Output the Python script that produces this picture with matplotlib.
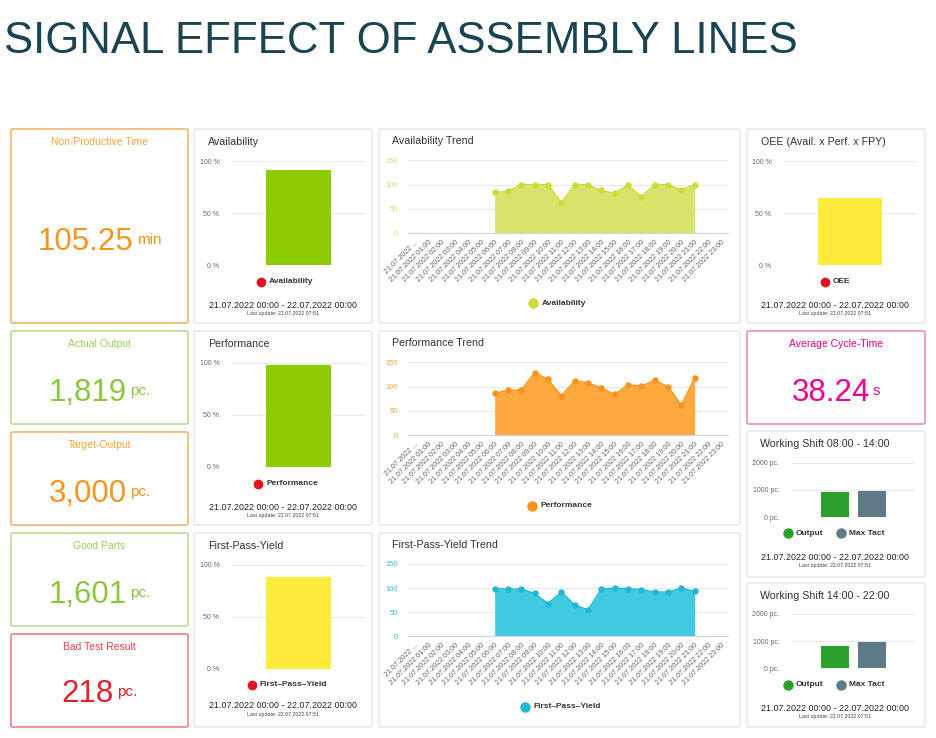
import numpy as np
import matplotlib
matplotlib.use('Agg')
import matplotlib.pyplot as plt
from matplotlib.patches import FancyBboxPatch
from matplotlib.lines import Line2D

plt.rcParams['font.family'] = ['Liberation Sans', 'DejaVu Sans']

# ---- data ----
hour_labels = ['21.07.2022 ...', '21.07.2022 01:00', '21.07.2022 02:00', '21.07.2022 03:00',
               '21.07.2022 04:00', '21.07.2022 05:00', '21.07.2022 06:00', '21.07.2022 07:00',
               '21.07.2022 08:00', '21.07.2022 09:00', '21.07.2022 10:00', '21.07.2022 11:00',
               '21.07.2022 12:00', '21.07.2022 13:00', '21.07.2022 14:00', '21.07.2022 15:00',
               '21.07.2022 16:00', '21.07.2022 17:00', '21.07.2022 18:00', '21.07.2022 19:00',
               '21.07.2022 20:00', '21.07.2022 21:00', '21.07.2022 22:00', '21.07.2022 23:00']
avail_trend = [None, None, None, None, None, None, 84, 86, 100, 100, 100, 63,
               100, 100, 88, 82, 100, 75, 100, 100, 89, 100, None, None]
perf_trend = [None, None, None, None, None, None, 86, 93, 93, 129, 115, 81,
              112, 108, 97, 84, 104, 101, 113, 100, 62, 118, None, None]
fpy_trend = [None, None, None, None, None, None, 99, 98, 98, 89, 68, 92,
             65, 55, 98, 100, 99, 97, 92, 92, 100, 93, None, None]

availability = 91
performance = 98
first_pass_yield = 88
oee = 64

shift_series = ['Output', 'Max Tact']
shift1_values = [915, 963]
shift2_values = [822, 970]

kpi_titles = ['Non-Productive Time', 'Actual Output', 'Target-Output', 'Good Parts', 'Bad Test Result']
kpi_values = ['105.25', '1,819', '3,000', '1,601', '218']
kpi_units = ['min', 'pc.', 'pc.', 'pc.', 'pc.']

date_range = '21.07.2022 00:00 - 22.07.2022 00:00'
last_update = 'Last update: 22.07.2022 07:51'

W, H = 937, 738
fig = plt.figure(figsize=(W / 100, H / 100), dpi=100)
fig.patch.set_facecolor('white')


def fbox(x0, y0, x1, y1):
    return [x0 / W, 1 - y1 / H, (x1 - x0) / W, (y1 - y0) / H]


def ftext(x, y, s, **kw):
    return fig.text(x / W, 1 - y / H, s, **kw)


def card(x0, y0, x1, y1, ec='#e2e2e2', lw=0.9):
    p = FancyBboxPatch((x0 / W, 1 - y1 / H), (x1 - x0) / W, (y1 - y0) / H,
                       boxstyle='round,pad=0,rounding_size=0.002',
                       transform=fig.transFigure, fc='white', ec=ec, lw=lw, zorder=0)
    fig.add_artist(p)


def dot(x, y, c, ms=6):
    fig.add_artist(Line2D([x / W], [1 - y / H], marker='o', ms=ms, color=c,
                          mec=c, lw=0, transform=fig.transFigure))


def footer(cx, y):
    ftext(cx, y, date_range, ha='center', va='center', size=6.4, color='#222222')
    ftext(cx, y + 8.5, last_update, ha='center', va='center', size=3.8, color='#444444')


# ---- title ----
ftext(4, 53, 'SIGNAL EFFECT OF ASSEMBLY LINES', ha='left', va='baseline',
      size=31.5, color='#1a4452')

# ---- KPI boxes ----
kpi_boxes = [(11, 129, 188, 323), (11, 331, 188, 424), (11, 432, 188, 525),
             (11, 533, 188, 626), (11, 634, 188, 727)]
kpi_colors = ['#f7941d', '#8cc63f', '#f7941d', '#8cc63f', '#e3202c']
kpi_edges = ['#f5b56e', '#bcdc95', '#f5b56e', '#bcdc95', '#ec8088']
kpi_title_y = [142, 344, 445, 546, 647]
kpi_base_y = [250, 401, 502, 603, 702]

pairs = []
for box, t, v, u, c, ec, ty, by in zip(kpi_boxes, kpi_titles, kpi_values, kpi_units,
                                       kpi_colors, kpi_edges, kpi_title_y, kpi_base_y):
    card(*box, ec=ec, lw=1.2)
    cx = (box[0] + box[2]) / 2
    ftext(cx, ty, t, ha='center', va='center', size=7.5, color=c, alpha=0.85)
    t1 = ftext(cx, by, v, ha='left', va='baseline', size=22.5, color=c)
    t2 = ftext(cx, by - 6, u, ha='left', va='baseline', size=11, color=c)
    pairs.append((cx, t1, t2))

# average cycle time
card(747, 331, 925, 424, ec='#ec8cc4', lw=1.2)
ftext(836, 344, 'Average Cycle-Time', ha='center', va='center', size=7.5, color='#ec008c')
t1 = ftext(836, 401, '38.24', ha='left', va='baseline', size=22.5, color='#ec008c')
t2 = ftext(836, 395, 's', ha='left', va='baseline', size=11, color='#ec008c')
pairs.append((836, t1, t2))

renderer = fig.canvas.get_renderer()
for cx, t1, t2 in pairs:
    w1 = t1.get_window_extent(renderer).width
    w2 = t2.get_window_extent(renderer).width
    start = cx - (w1 + 3 + w2) / 2
    t1.set_x(start / W)
    t2.set_x((start + w1 + 3) / W)


# ---- gauge bars ----
def gauge(panel, ax_px, value, color, title, label, leg_x, leg_y, foot_cx, foot_y):
    card(*panel)
    ftext(panel[0] + 14, panel[1] + 13, title, ha='left', va='center', size=7.7, color='#333333')
    ax = fig.add_axes(fbox(*ax_px))
    ax.bar([0], [value], width=0.97, color=color, zorder=2)
    ax.set_xlim(-1, 1)
    ax.set_ylim(0, 100)
    ax.set_yticks([0, 50, 100])
    ax.set_yticklabels(['0 %', '50 %', '100 %'])
    ax.set_xticks([])
    ax.yaxis.grid(True, color='#e8e8e8', lw=0.8)
    ax.set_axisbelow(True)
    for s in ax.spines.values():
        s.set_visible(False)
    ax.tick_params(axis='y', length=0, pad=9, labelsize=5, labelcolor='#666666')
    ax.patch.set_alpha(0)
    dot(leg_x, leg_y, '#e0141e')
    ftext(leg_x + 8, leg_y, label, ha='left', va='center', size=6, weight='bold', color='#333333')
    footer(foot_cx, foot_y)


gauge((194, 129, 372, 323), (232, 161, 365, 265), availability, '#8ccc00', 'Availability',
      'Availability', 260.5, 281.5, 283, 305.5)
gauge((194, 331, 372, 525), (232, 363, 365, 467), performance, '#8ccc00', 'Performance',
      'Performance', 258.5, 483.5, 283, 507.5)
gauge((194, 533, 372, 727), (232, 564.5, 365, 668.5), first_pass_yield, '#ffeb3b', 'First-Pass-Yield',
      'First\u2013Pass\u2013Yield', 252, 685, 283, 706)
gauge((747, 129, 925, 323), (784, 161, 916, 265), oee, '#ffeb3b', 'OEE (Avail. x Perf. x FPY)',
      'OEE', 825, 281.5, 835, 305.5)


# ---- trend charts ----
def trend(panel, ax_px, values, fill, line, tick_c, title, label, leg_x, leg_y):
    card(*panel)
    ftext(panel[0] + 13, panel[1] + 12, title, ha='left', va='center', size=7.7, color='#333333')
    ax = fig.add_axes(fbox(*ax_px))
    y = np.array([np.nan if v is None else v for v in values], dtype=float)
    x = np.arange(len(y))
    ok = ~np.isnan(y)
    ax.fill_between(x[ok], 0, y[ok], color=fill, lw=0, zorder=2)
    ax.plot(x[ok], y[ok], color=line, lw=1, marker='o', ms=3.6, zorder=3)
    ax.set_xlim(-0.5, len(y) - 0.5)
    ax.set_ylim(0, 150)
    ax.set_yticks([0, 50, 100, 150])
    ax.set_xticks(x)
    ax.set_xticklabels(hour_labels, rotation=45, ha='right', rotation_mode='anchor')
    ax.yaxis.grid(True, color='#e8e8e8', lw=0.8)
    ax.set_axisbelow(True)
    for s in ['top', 'right', 'left']:
        ax.spines[s].set_visible(False)
    ax.spines['bottom'].set_color('#ccd6eb')
    ax.spines['bottom'].set_linewidth(0.8)
    ax.tick_params(axis='y', length=0, pad=7, labelsize=5.5, labelcolor=tick_c)
    ax.tick_params(axis='x', length=0, pad=4, labelsize=5.2, labelcolor='#666666')
    ax.patch.set_alpha(0)
    dot(leg_x, leg_y, line, ms=6.5)
    ftext(leg_x + 9, leg_y, label, ha='left', va='center', size=6, weight='bold', color='#333333')


trend((379, 129, 740, 323), (408, 160.3, 728, 233.3), avail_trend, '#d8e36b', '#cddc39', '#d4dd6a',
      'Availability Trend', 'Availability', 533, 303)
trend((379, 331, 740, 525), (408, 362.3, 728, 435.3), perf_trend, '#ffa83d', '#f7941d', '#f7a64a',
      'Performance Trend', 'Performance', 532, 505.5)
trend((379, 533, 740, 727), (408, 564, 728, 636.3), fpy_trend, '#40c9e0', '#22b8d2', '#40b8d4',
      'First-Pass-Yield Trend', 'First\u2013Pass\u2013Yield', 525, 707)


# ---- working shifts ----
def shift(panel, ax_px, values, title, leg_y, foot_y):
    card(*panel)
    ftext(panel[0] + 13, panel[1] + 13, title, ha='left', va='center', size=7.7, color='#333333')
    ax = fig.add_axes(fbox(*ax_px))
    cols = ['#2ca02c', '#5f7a87']
    ax.bar([0, 1], values, width=0.78, color=cols, zorder=2)
    ax.set_xlim(-1.18, 2.18)
    ax.set_ylim(0, 2000)
    ax.set_yticks([0, 1000, 2000])
    ax.set_yticklabels(['0 pc.', '1000 pc.', '2000 pc.'])
    ax.set_xticks([])
    ax.yaxis.grid(True, color='#e8e8e8', lw=0.8)
    ax.set_axisbelow(True)
    for s in ax.spines.values():
        s.set_visible(False)
    ax.tick_params(axis='y', length=0, pad=9, labelsize=5, labelcolor='#666666')
    ax.patch.set_alpha(0)
    for lx, c, name in zip([788, 841], cols, shift_series):
        dot(lx, leg_y, c, ms=6.5)
        ftext(lx + 8, leg_y, name, ha='left', va='center', size=6, weight='bold', color='#333333')
    footer(835, foot_y)


shift((747, 431, 925, 577), (792, 462.7, 915, 517.3), shift1_values, 'Working Shift 08:00 - 14:00', 533.3, 557.5)
shift((747, 583, 925, 727), (792, 614, 915, 668.3), shift2_values, 'Working Shift 14:00 - 22:00', 685, 708.3)

fig.savefig('out.png', dpi=100)
